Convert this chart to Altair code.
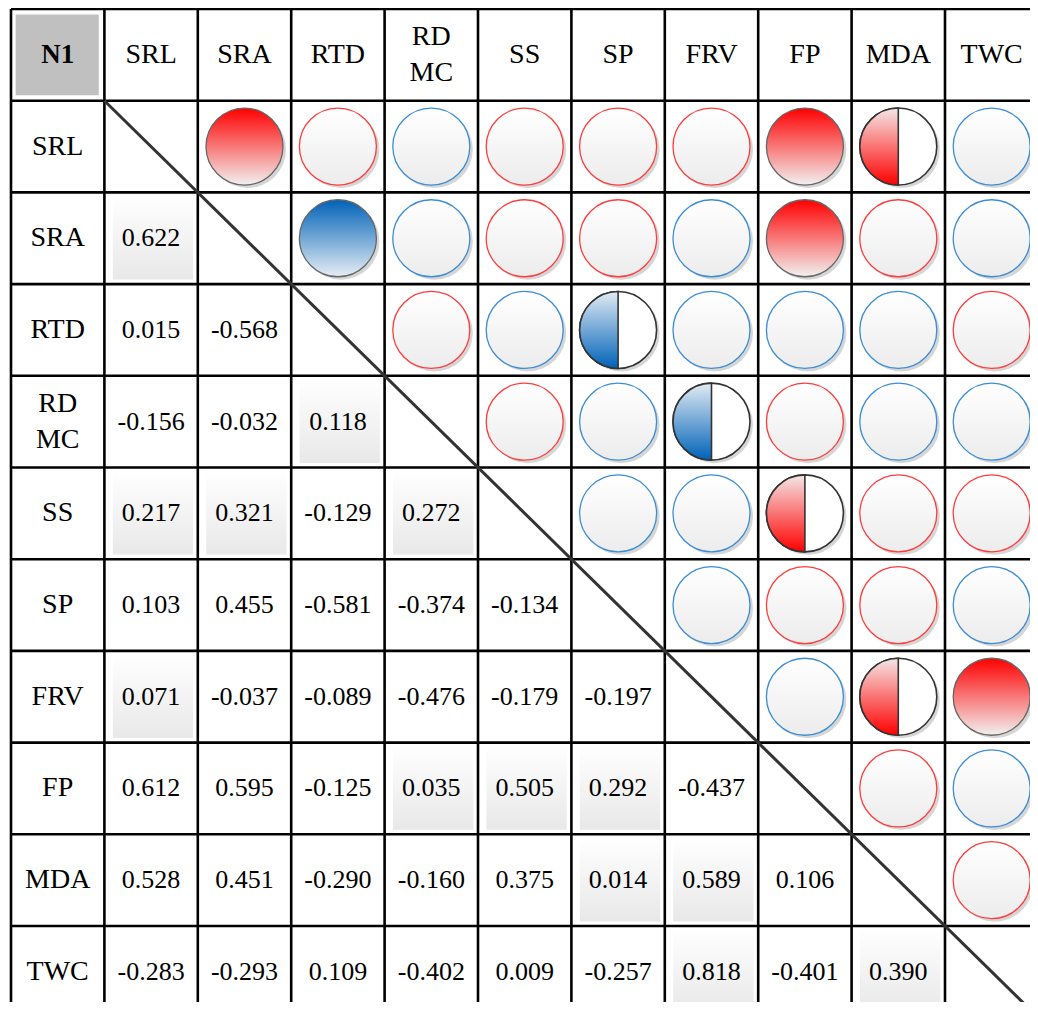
import math
import altair as alt
import pandas as pd

# ---------------- data ----------------
labels = ["SRL", "SRA", "RTD", "RD\nMC", "SS", "SP", "FRV", "FP", "MDA", "TWC"]
corner_label = "N1"

# lower triangle: row i holds correlations with columns 0..i-1
lower_values = [
    [],
    [0.622],
    [0.015, -0.568],
    [-0.156, -0.032, 0.118],
    [0.217, 0.321, -0.129, 0.272],
    [0.103, 0.455, -0.581, -0.374, -0.134],
    [0.071, -0.037, -0.089, -0.476, -0.179, -0.197],
    [0.612, 0.595, -0.125, 0.035, 0.505, 0.292, -0.437],
    [0.528, 0.451, -0.290, -0.160, 0.375, 0.014, 0.589, 0.106],
    [-0.283, -0.293, 0.109, -0.402, 0.009, -0.257, 0.818, -0.401, 0.390],
]

# upper triangle symbols: row i holds columns i+1..9
# R/B = red/blue outline, RF/BF = filled, RH/BH = half filled
upper_codes = [
    ["RF", "R", "B", "R", "R", "R", "RF", "RH", "B"],
    ["BF", "B", "R", "R", "B", "RF", "R", "B"],
    ["R", "B", "BH", "B", "B", "B", "R"],
    ["R", "B", "BH", "R", "B", "B"],
    ["B", "B", "RH", "R", "R"],
    ["B", "R", "R", "B"],
    ["B", "RH", "RF"],
    ["R", "B"],
    ["R"],
    [],
]

# lower-triangle cells with a shaded background (row label, column label)
shaded_cells = [
    ("SRA", "SRL"), ("RD\nMC", "RTD"), ("SS", "SRL"), ("SS", "SRA"),
    ("SS", "RD\nMC"), ("FRV", "SRL"), ("FP", "RD\nMC"), ("FP", "SS"),
    ("FP", "SP"), ("MDA", "SP"), ("MDA", "FRV"), ("TWC", "FRV"),
    ("TWC", "MDA"),
]

# ---------------- tables ----------------
n = len(labels)
head_rows = []
for k, lab in enumerate(labels):
    head_rows.append({"cx": k + 1.5, "cy": 0.5, "text": lab, "multi": "\n" in lab})
    head_rows.append({"cx": 0.5, "cy": k + 1.5, "text": lab, "multi": "\n" in lab})
head_df = pd.DataFrame(head_rows)

corner_df = pd.DataFrame([{"c": 0, "r": 0, "cx": 0.5, "cy": 0.5, "text": corner_label}])

val_rows = []
for i, row in enumerate(lower_values):
    for j, v in enumerate(row):
        val_rows.append({
            "c": j + 1, "r": i + 1, "cx": j + 1.5, "cy": i + 1.5,
            "text": f"{v:.3f}",
            "shaded": (labels[i], labels[j]) in shaded_cells,
        })
val_df = pd.DataFrame(val_rows)
shade_df = val_df[val_df["shaded"]]

circ_rows = []
for i, row in enumerate(upper_codes):
    for k, code in enumerate(row):
        j = i + 1 + k
        circ_rows.append({"cx": j + 1.5, "cy": i + 1.5, "code": code})
circ_df = pd.DataFrame(circ_rows)

grid_df = pd.DataFrame({"k": list(range(n + 2)), "lo": 0, "hi": n + 1})
diag_df = pd.DataFrame([{"a": 1, "b": n + 1}])

# ---------------- scales ----------------
xs = alt.Scale(domain=[0, 11], range=[0, 1027.4])
ys = alt.Scale(domain=[0, 11], range=[0, 1008.7])


def X(f):
    return alt.X(f, type="quantitative", scale=xs, axis=None)


def Y(f):
    return alt.Y(f, type="quantitative", scale=ys, axis=None)


def grad(top, bottom):
    return alt.Gradient(
        gradient="linear",
        stops=[alt.GradientStop(color=top, offset=0), alt.GradientStop(color=bottom, offset=1)],
        x1=0, x2=0, y1=0, y2=1,
    )


FONT = "Liberation Serif"
R = 38.5
TWO_PI = 2 * math.pi

# shaded backgrounds
shade = alt.Chart(shade_df).transform_calculate(
    x1="datum.c + 0.09", x2="datum.c + 0.95", y1="datum.r + 0.03", y2="datum.r + 0.95"
).mark_rect(fill=grad("#ffffff", "#e8e8e8")).encode(
    x=X("x1:Q"), x2="x2:Q", y=Y("y1:Q"), y2="y2:Q"
)

corner_box = alt.Chart(corner_df).transform_calculate(
    x1="datum.c + 0.05", x2="datum.c + 0.94", y1="datum.r + 0.06", y2="datum.r + 0.94"
).mark_rect(fill="#c0c0c0").encode(
    x=X("x1:Q"), x2="x2:Q", y=Y("y1:Q"), y2="y2:Q"
)

vlines = alt.Chart(grid_df).mark_rule(color="#000000", strokeWidth=2.6).encode(
    x=X("k:Q"), y=Y("lo:Q"), y2="hi:Q"
)
hlines = alt.Chart(grid_df).mark_rule(color="#000000", strokeWidth=2.6).encode(
    y=Y("k:Q"), x=X("lo:Q"), x2="hi:Q"
)
diag = alt.Chart(diag_df).mark_rule(color="#333333", strokeWidth=3).encode(
    x=X("a:Q"), y=Y("a:Q"), x2="b:Q", y2="b:Q"
)

circ = alt.Chart(circ_df)

shadow = circ.mark_arc(radius=R, theta=0, theta2=TWO_PI, fill="#d6d6d6",
                       xOffset=3, yOffset=3).encode(x=X("cx:Q"), y=Y("cy:Q"))


def full_layer(code, fill, stroke, sw):
    return circ.transform_filter(alt.datum.code == code).mark_arc(
        radius=R, theta=0, theta2=TWO_PI, fill=fill, stroke=stroke, strokeWidth=sw
    ).encode(x=X("cx:Q"), y=Y("cy:Q"))


outline_red = full_layer("R", grad("#ffffff", "#ececec"), "#ff3c3c", 1.3)
outline_blue = full_layer("B", grad("#ffffff", "#ececec"), "#3a8dd6", 1.3)
filled_red = full_layer("RF", grad("#ff0000", "#f2f0f0"), "#666666", 1.3)
filled_blue = full_layer("BF", grad("#0062b8", "#e6edf4"), "#666666", 1.3)
half_red_base = full_layer("RH", "#ffffff", "#333333", 1.6)
half_blue_base = full_layer("BH", "#ffffff", "#333333", 1.6)


def half_layer(code, fill):
    return circ.transform_filter(alt.datum.code == code).mark_arc(
        radius=R, theta=math.pi, theta2=TWO_PI, fill=fill, stroke="#333333", strokeWidth=1.6
    ).encode(x=X("cx:Q"), y=Y("cy:Q"))


half_red = half_layer("RH", grad("#f5e6e6", "#ff0000"))
half_blue = half_layer("BH", grad("#e2ebf4", "#0062b8"))

head_single = alt.Chart(head_df).transform_filter("!datum.multi").mark_text(
    font=FONT, fontSize=28, baseline="middle", color="#000000"
).encode(x=X("cx:Q"), y=Y("cy:Q"), text="text:N")

head_multi = alt.Chart(head_df).transform_filter("datum.multi").mark_text(
    font=FONT, fontSize=28, lineBreak="\n", lineHeight=36, baseline="middle",
    dy=-18, color="#000000"
).encode(x=X("cx:Q"), y=Y("cy:Q"), text="text:N")

corner_text = alt.Chart(corner_df).mark_text(
    font=FONT, fontSize=27, fontWeight="bold", baseline="middle", color="#000000"
).encode(x=X("cx:Q"), y=Y("cy:Q"), text="text:N")

val_text = alt.Chart(val_df).mark_text(
    font=FONT, fontSize=26, baseline="middle", color="#000000"
).encode(x=X("cx:Q"), y=Y("cy:Q"), text="text:N")

chart = alt.layer(
    shade, corner_box, shadow,
    outline_red, outline_blue, filled_red, filled_blue,
    half_red_base, half_blue_base, half_red, half_blue,
    vlines, hlines, diag,
    head_single, head_multi, corner_text, val_text,
).properties(
    width=1019, height=993,
    autosize=alt.AutoSizeParams(type="none"),
    padding={"left": 3, "top": 1, "right": 0, "bottom": 0},
    background="#ffffff",
).configure_view(stroke=None)

chart.save("out.html", embed_options={"renderer": "svg", "actions": False})
